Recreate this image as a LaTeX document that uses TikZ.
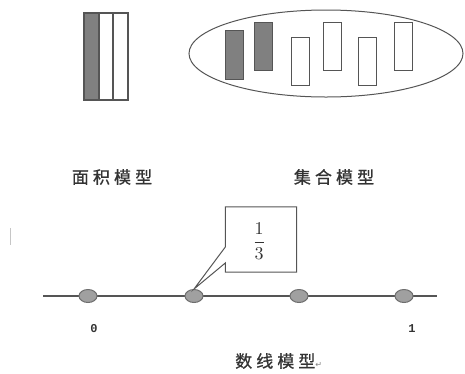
\documentclass[tikz,border=0pt]{standalone}
\usepackage{fontspec}
\newfontfamily\cjk[LetterSpace=24, FakeBold=0.8]{Noto Sans CJK SC}
\newfontfamily\nummono{Liberation Mono}
\newfontfamily\symfont{DejaVu Sans}
\usetikzlibrary{shapes.geometric,calc}
\definecolor{edge}{HTML}{555555}
\definecolor{shadegray}{HTML}{808080}
\definecolor{dotfill}{HTML}{A0A0A0}
\definecolor{dotedge}{HTML}{6E6E6E}
\definecolor{txt}{HTML}{333333}
\tikzset{
  bar/.style={draw=edge, line width=1pt, fill=white},
  barshade/.style={draw=edge, line width=1pt, fill=shadegray},
  numdot/.style={ellipse, draw=dotedge, fill=dotfill, line width=1pt, minimum width=18pt, minimum height=13pt, inner sep=0pt},
  caption/.style={font=\cjk\fontsize{17}{17}\selectfont, text=txt, inner sep=0pt},
  numlabel/.style={font=\nummono\bfseries\fontsize{12}{12}\selectfont, text=txt, inner sep=0pt},
}
\begin{document}
\begin{tikzpicture}[x=1pt,y=-1pt]
\useasboundingbox (0,0) rectangle (465,373);
% area model
\fill[shadegray] (84,13) rectangle (99,100);
\draw[edge, line width=1.1pt] (84,13) rectangle (128,100);
\draw[edge, line width=1.1pt] (99,13) -- (99,100) (113,13) -- (113,100);
% set model
\node[ellipse, draw=edge, line width=1pt, minimum width=274pt, minimum height=87pt, inner sep=0pt] (set) at (326,53.5) {};
\draw[barshade] (225,30) rectangle (243,79);
\draw[barshade] (254,22) rectangle (272,70);
\draw[bar] (291,37) rectangle (309,85);
\draw[bar] (323,22) rectangle (341,70);
\draw[bar] (358,37) rectangle (376,85);
\draw[bar] (394,22) rectangle (412,70);
% captions
\node[caption] (capA) at (112,177) {面积模型};
\node[caption] (capB) at (334,177) {集合模型};
% stray mark
\draw[gray!45, line width=0.8pt] (10,228) -- (10,245);
% number line
\coordinate (la) at (43,296);
\coordinate (lb) at (437,296);
\draw[edge, line width=1.3pt] (la) -- (lb);
\node[numdot] (d1) at (88,296) {};
\node[numdot] (d2) at (194,296) {};
\node[numdot] (d3) at (299,296) {};
\node[numdot] (d4) at (404,296) {};
\node[numlabel] (n0) at (94,329) {0};
\node[numlabel] (n1) at (412,329) {1};
% callout
\coordinate (frac) at (261,239.5);
\node[minimum width=71pt, minimum height=65pt, inner sep=0pt] (fbox) at (frac) {};
\filldraw[draw=edge, fill=white, line width=1pt, line join=miter]
  ($(fbox.west)+(0,7.5)$) -- (fbox.north west) -- (fbox.north east) -- (fbox.south east) -- (fbox.south west) -- ($(fbox.west)+(0,23.5)$) -- (d2.north) -- cycle;
\node[inner sep=0pt, text=txt] (ftext) at (259,241) {\scalebox{1.8}{$\displaystyle\frac{1}{3}$}};
\node[caption, anchor=west] (capC) at (235,361) {数线模型\textcolor{gray}{\symfont\fontsize{8}{8}\selectfont ↵}};
\end{tikzpicture}
\end{document}
